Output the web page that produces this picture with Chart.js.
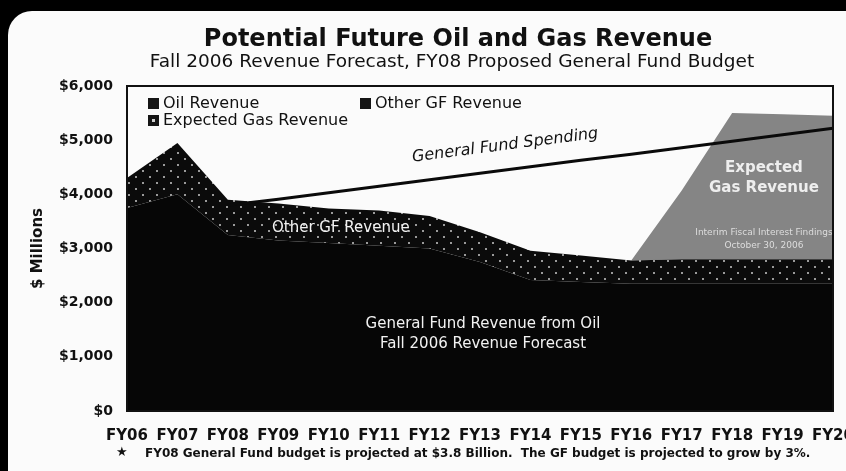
<!DOCTYPE html>
<html><head><meta charset="utf-8">
<script src="https://cdn.jsdelivr.net/npm/chart.js@4.4.0/dist/chart.umd.min.js"></script>
<style>
html,body{margin:0;padding:0;background:#000;width:846px;height:471px;overflow:hidden;}
#card{position:absolute;left:8px;top:11px;width:900px;height:490px;background:#fbfbfb;border-radius:24px;}
#wrap{position:absolute;left:0;top:0;width:846px;height:471px;}
.t{position:absolute;font-family:'DejaVu Sans';color:#111;white-space:nowrap;line-height:1;}
#title{left:458px;top:26px;transform:translateX(-50%);font-size:24px;font-weight:bold;}
#subtitle{left:452px;top:52px;transform:translateX(-50%);font-size:18.5px;}
#note{left:145px;top:447px;font-size:12px;font-weight:bold;}
#star{left:116px;top:445px;font-size:13px;}
</style></head>
<body>
<div id="card"></div>
<div id="wrap"><canvas id="c" width="846" height="471"></canvas></div>
<div class="t" id="title">Potential Future Oil and Gas Revenue</div>
<div class="t" id="subtitle">Fall 2006 Revenue Forecast, FY08 Proposed General Fund Budget</div>
<div class="t" id="star">★</div>
<div class="t" id="note">FY08 General Fund budget is projected at $3.8 Billion.&nbsp; The GF budget is projected to grow by 3%.</div>
<script>
const categories = ['FY06','FY07','FY08','FY09','FY10','FY11','FY12','FY13','FY14','FY15','FY16','FY17','FY18','FY19','FY20'];
const oilRevenue = [3750,4000,3250,3150,3100,3050,3000,2750,2420,2380,2350,2350,2350,2350,2350];
const otherGFRevenue = [550,950,650,680,640,650,600,550,540,490,430,450,450,450,450];
const expectedGasRevenue = [0,0,0,0,0,0,0,0,0,0,0,1270,2700,2680,2650];
const gfSpending = [null,null,3800,3910,4030,4150,4270,4390,4510,4630,4740,4860,4980,5100,5220];
const yMin = 0, yMax = 6000, yStep = 1000;

function dotPattern(){
  const c=document.createElement('canvas'); c.width=14; c.height=12;
  const g=c.getContext('2d');
  g.fillStyle='#0b0b0b'; g.fillRect(0,0,14,12);
  g.fillStyle='#9a9a9a';
  g.fillRect(2,2,2,2); g.fillRect(9,8,2,2);
  return g.createPattern(c,'repeat');
}
const otherFill = dotPattern();

const F = 'DejaVu Sans';

const annotations = {
  id:'annot',
  afterDatasetsDraw(chart){
    const {ctx, scales:{x,y}} = chart;
    ctx.save();
    const p1x = x.getPixelForValue(7), p1y = y.getPixelForValue(gfSpending[7]);
    const p2x = x.getPixelForValue(9), p2y = y.getPixelForValue(gfSpending[9]);
    const ang = Math.atan2(p2y-p1y, p2x-p1x);
    ctx.translate(x.getPixelForValue(7.5), y.getPixelForValue(4900));
    ctx.rotate(ang);
    ctx.font = 'italic 16px "'+F+'"';
    ctx.fillStyle='#111'; ctx.textAlign='center'; ctx.textBaseline='middle';
    ctx.fillText('General Fund Spending',0,0);
    ctx.restore();

    ctx.save();
    ctx.textAlign='center'; ctx.textBaseline='middle';
    ctx.fillStyle='#f2f2f2';
    ctx.font='15px "'+F+'"';
    ctx.fillText('Other GF Revenue', x.getPixelForValue(4.24), y.getPixelForValue(3370));
    ctx.fillText('General Fund Revenue from Oil', x.getPixelForValue(7.06), y.getPixelForValue(1610));
    ctx.fillText('Fall 2006 Revenue Forecast', x.getPixelForValue(7.06), y.getPixelForValue(1240));
    ctx.font='bold 15px "'+F+'"';
    ctx.fillStyle='#eeeeee';
    ctx.fillText('Expected', x.getPixelForValue(12.63), y.getPixelForValue(4480));
    ctx.fillText('Gas Revenue', x.getPixelForValue(12.63), y.getPixelForValue(4110));
    ctx.font='9px "'+F+'"';
    ctx.fillStyle='#dddddd';
    ctx.fillText('Interim Fiscal Interest Findings', x.getPixelForValue(12.63), y.getPixelForValue(3300));
    ctx.fillText('October 30, 2006', x.getPixelForValue(12.63), y.getPixelForValue(3060));
    ctx.restore();
  },
  afterDraw(chart){
    const {ctx, chartArea:a} = chart;
    ctx.save();
    ctx.strokeStyle='#111'; ctx.lineWidth=2;
    ctx.strokeRect(a.left, a.top, a.right-a.left, a.bottom-a.top);
    const items = [
      {t:'Oil Revenue', x:a.left+21, y:a.top+17, dot:false},
      {t:'Other GF Revenue', x:a.left+233, y:a.top+17, dot:false},
      {t:'Expected Gas Revenue', x:a.left+21, y:a.top+34, dot:true}
    ];
    ctx.font='16px "'+F+'"'; ctx.textBaseline='middle'; ctx.textAlign='left';
    items.forEach(it=>{
      ctx.fillStyle='#151515';
      ctx.fillRect(it.x, it.y-5, 11, 11);
      if(it.dot){ ctx.fillStyle='#cfcfcf'; ctx.fillRect(it.x+4, it.y-1, 3, 3); }
      ctx.fillStyle='#111';
      ctx.fillText(it.t, it.x+15, it.y+1);
    });
    ctx.restore();
  }
};

new Chart(document.getElementById('c'), {
  type:'line',
  data:{
    labels: categories,
    datasets:[
      {label:'General Fund Spending', data:gfSpending, stack:'spend', borderColor:'#0a0a0a', borderWidth:3, pointRadius:0, fill:false, tension:0},
      {label:'Oil Revenue', data:oilRevenue, stack:'rev', backgroundColor:'#060606', borderWidth:0, pointRadius:0, fill:'origin', tension:0},
      {label:'Other GF Revenue', data:otherGFRevenue, stack:'rev', backgroundColor:otherFill, borderWidth:0, pointRadius:0, fill:'-1', tension:0},
      {label:'Expected Gas Revenue', data:expectedGasRevenue, stack:'rev', backgroundColor:'#858585', borderWidth:0, pointRadius:0, fill:'-1', tension:0}
    ]
  },
  options:{
    responsive:false, animation:false,
    layout:{padding:{top:86, right:13, left:0, bottom:0}},
    plugins:{legend:{display:false}, tooltip:{enabled:false}, title:{display:false}},
    scales:{
      x:{
        grid:{display:false, drawTicks:false}, border:{display:false},
        ticks:{autoSkip:false, maxRotation:0, minRotation:0, padding:16, color:'#111', font:{family:F, size:15, weight:'bold'}},
        afterFit(s){ s.height = 60; s.paddingLeft=0; s.paddingRight=0; }
      },
      y:{
        stacked:true, min:yMin, max:yMax,
        grid:{display:false, drawTicks:false}, border:{display:false},
        ticks:{stepSize:yStep, padding:14, color:'#111', font:{family:F, size:14, weight:'bold'},
          callback:v=>'$'+Number(v).toLocaleString('en-US')},
        title:{display:true, text:'$ Millions', color:'#111', font:{family:F, size:15, weight:'bold'}, padding:{top:29, bottom:0}},
        afterFit(s){ s.width = 127; s.paddingTop=0; s.paddingBottom=0; }
      }
    }
  },
  plugins:[annotations]
});
</script>
</body></html>
